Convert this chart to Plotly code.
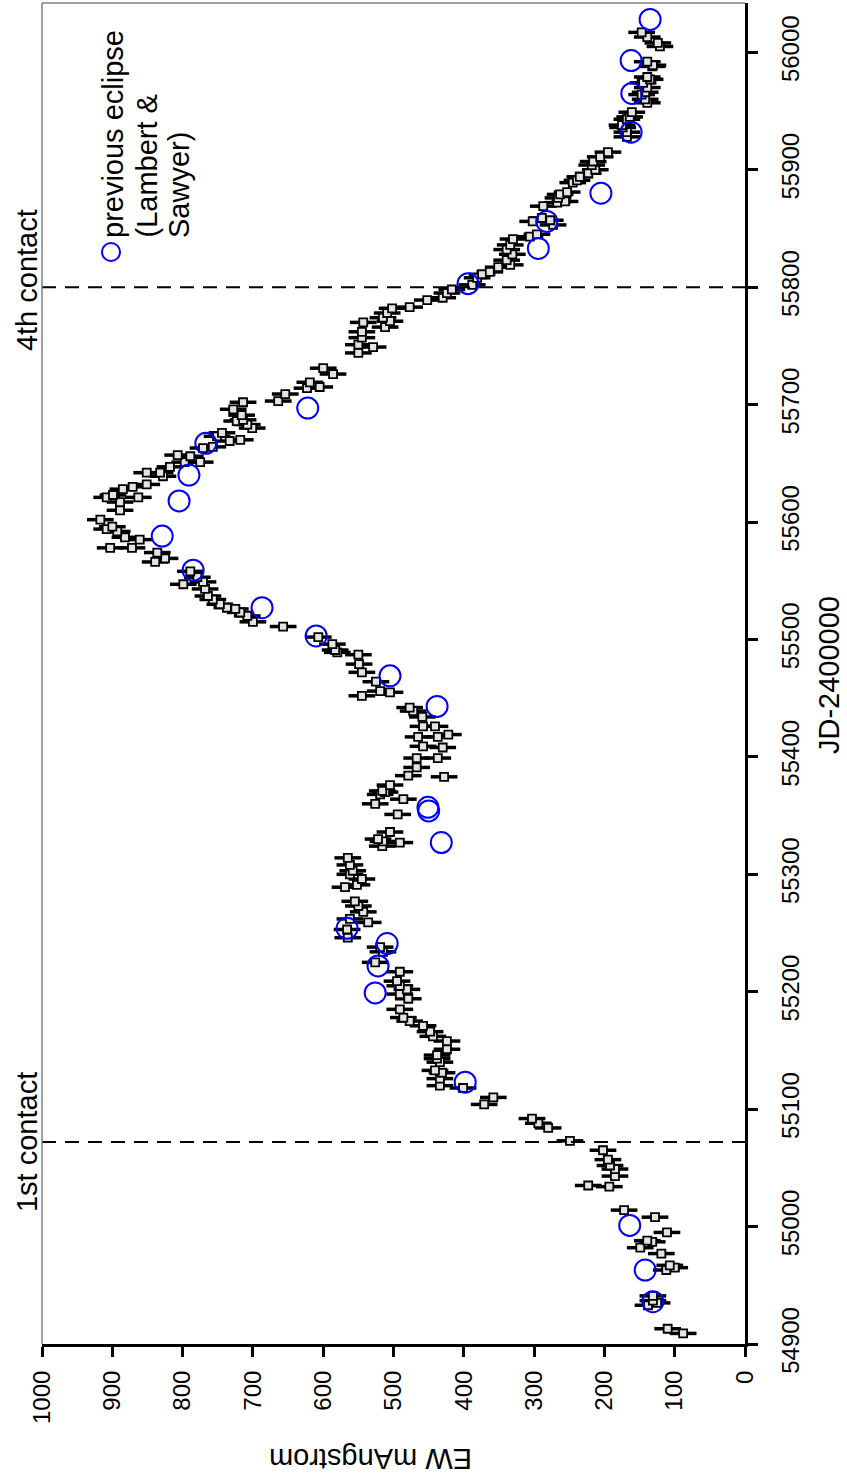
import plotly.graph_objects as go

# ---- data: current eclipse (JD-2400000, EW in mAngstrom) ----
jd = [54909, 54913, 54933, 54935, 54937, 54941, 54963, 54965, 54967, 54977,
      54982, 54987, 54988, 54995, 55008, 55014, 55034, 55035, 55043, 55049,
      55052, 55057, 55065, 55073, 55084, 55088, 55092, 55104, 55110, 55118,
      55120, 55126, 55131, 55133, 55140, 55143, 55146, 55151, 55158, 55162,
      55166, 55171, 55175, 55178, 55185, 55194, 55198, 55202, 55205, 55209,
      55217, 55225, 55234, 55238, 55246, 55253, 55259, 55262, 55268, 55273,
      55277, 55289, 55291, 55296, 55300, 55303, 55308, 55314, 55324, 55327,
      55328, 55330, 55336, 55351, 55360, 55364, 55368, 55370, 55371, 55376,
      55383, 55384, 55391, 55399, 55399, 55408, 55409, 55417, 55417, 55419,
      55426, 55426, 55434, 55439, 55442, 55452, 55455, 55456, 55464, 55472,
      55479, 55487, 55489, 55491, 55496, 55502, 55511, 55515, 55520, 55523,
      55526, 55527, 55530, 55534, 55537, 55543, 55547, 55549, 55553, 55558,
      55566, 55569, 55574, 55578, 55578, 55585, 55587, 55592, 55594, 55596,
      55602, 55610, 55617, 55621, 55621, 55623, 55628, 55630, 55632, 55639,
      55642, 55642, 55647, 55651, 55651, 55656, 55657, 55663, 55664, 55669,
      55670, 55673, 55676, 55680, 55683, 55686, 55687, 55691, 55696, 55702,
      55703, 55709, 55714, 55715, 55719, 55726, 55731, 55744, 55749, 55751,
      55757, 55762, 55766, 55770, 55771, 55774, 55778, 55782, 55783, 55789,
      55791, 55795, 55798, 55802, 55808, 55811, 55813, 55817, 55819, 55823,
      55828, 55832, 55836, 55841, 55843, 55845, 55853, 55856, 55857, 55859,
      55869, 55872, 55873, 55876, 55879, 55881, 55889, 55891, 55894, 55897,
      55900, 55904, 55907, 55911, 55915, 55928, 55932, 55936, 55938, 55943,
      55945, 55949, 55957, 55960, 55964, 55966, 55970, 55974, 55977, 55979,
      55988, 55989, 55992, 56005, 56008, 56013, 56017]
ew = [88, 110, 138, 125, 131, 131, 112, 100, 107, 119,
      149, 132, 139, 111, 128, 172, 193, 223, 185, 185,
      192, 195, 202, 249, 280, 294, 303, 371, 358, 401,
      434, 434, 431, 441, 434, 438, 438, 424, 424, 444,
      448, 458, 477, 486, 491, 479, 491, 481, 491, 495,
      491, 526, 515, 519, 565, 566, 536, 562, 543, 550,
      555, 569, 552, 545, 562, 558, 562, 565, 516, 491,
      515, 522, 505, 494, 526, 486, 519, 512, 516, 505,
      428, 479, 467, 467, 437, 430, 458, 465, 437, 422,
      458, 441, 459, 472, 477, 545, 505, 519, 525, 545,
      549, 550, 580, 583, 587, 607, 657, 700, 708, 718,
      725, 737, 747, 757, 764, 768, 799, 771, 779, 789,
      839, 825, 836, 903, 872, 861, 882, 893, 908, 900,
      917, 889, 889, 908, 863, 899, 885, 871, 851, 828,
      851, 832, 818, 797, 775, 789, 807, 771, 757, 733,
      718, 751, 744, 701, 708, 723, 714, 716, 728, 714,
      664, 654, 623, 605, 619, 586, 600, 550, 529, 550,
      545, 545, 512, 543, 505, 515, 509, 502, 477, 452,
      430, 424, 417, 388, 381, 374, 363, 351, 334, 339,
      331, 339, 334, 330, 306, 296, 273, 302, 277, 289,
      287, 267, 256, 266, 263, 253, 245, 239, 235, 223,
      213, 218, 216, 206, 195, 168, 168, 174, 175, 168,
      164, 161, 139, 142, 147, 142, 139, 145, 135, 139,
      132, 131, 139, 121, 124, 139, 147]
ew_err = 19

# ---- data: previous eclipse (Lambert & Sawyer) ----
prev_jd = [54936, 54963, 55001, 55123, 55199, 55222, 55241, 55254, 55327, 55354,
           55357, 55443, 55469, 55503, 55527, 55559, 55588, 55618, 55640, 55667,
           55697, 55803, 55833, 55856, 55880, 55932, 55965, 55993, 56028]
prev_ew = [131, 142, 164, 398, 526, 522, 509, 566, 432, 450,
           451, 438, 505, 610, 687, 785, 829, 805, 791, 767,
           622, 394, 294, 282, 205, 162, 161, 162, 135]

contacts_jd = [55072, 55800]
contact_labels = ["1st contact", "4th contact"]
ew_ticks = list(range(0, 1001, 100))
jd_ticks = list(range(54900, 56001, 100))

FONT = "Liberation Sans, Arial, sans-serif"
TXT = 29

fig = go.Figure()
fig.add_trace(go.Scatter(
    x=ew, y=jd, mode="markers",
    marker=dict(symbol="square", size=8, color="#e4e4e4",
                line=dict(color="black", width=1.8)),
    error_x=dict(type="constant", value=ew_err, thickness=3.5, width=0, color="black"),
    showlegend=False, cliponaxis=False))
fig.add_trace(go.Scatter(
    x=prev_ew, y=prev_jd, mode="markers",
    marker=dict(symbol="circle-open", size=21, color="#0000ff",
                line=dict(width=2, color="#0000ff")),
    showlegend=False))

shapes = []
for c in contacts_jd:
    shapes.append(dict(type="line", xref="paper", yref="y", x0=0, x1=1, y0=c, y1=c,
                       line=dict(color="black", width=2, dash="14px,9px")))
# thin frame on top and left
shapes.append(dict(type="line", xref="paper", yref="paper", x0=0, x1=1, y0=1, y1=1,
                   line=dict(color="#808080", width=1.5)))
shapes.append(dict(type="line", xref="paper", yref="paper", x0=0, x1=0, y0=0, y1=1,
                   line=dict(color="#808080", width=1.5)))
# legend symbol
shapes.append(dict(type="circle", xref="paper", yref="paper",
                   x0=(102 - 42) / 703, x1=(120 - 42) / 703,
                   y0=(1344 - 261) / 1341, y1=(1344 - 243) / 1341,
                   line=dict(color="#0000ff", width=2)))

annotations = []
for c, lab in zip(contacts_jd, contact_labels):
    annotations.append(dict(text=lab, xref="paper", yref="y", x=(27 - 42) / 703,
                            y=c + (6 if lab.startswith("4") else 0),
                            xanchor="center", yanchor="middle", textangle=-90,
                            showarrow=False, font=dict(size=TXT, color="black", family=FONT)))
legend_lines = ["previous eclipse", "(Lambert &", "Sawyer)"]
for i, t in enumerate(legend_lines):
    xc = 113 + 33 * i
    annotations.append(dict(text=t, xref="paper", yref="paper", x=(xc - 42) / 703,
                            y=(1344 - 240) / 1341, xanchor="center", yanchor="bottom",
                            textangle=-90, showarrow=False,
                            font=dict(size=TXT, color="black", family=FONT)))
annotations.append(dict(text="JD-2400000", xref="paper", yref="paper",
                        x=(829 - 42) / 703, y=(1344 - 675) / 1341,
                        xanchor="center", yanchor="middle",
                        textangle=-90, showarrow=False,
                        font=dict(size=TXT, color="black", family=FONT)))
annotations.append(dict(text="EW mAngstrom", xref="paper", yref="paper",
                        x=(371 - 42) / 703, y=(1344 - 1459) / 1341,
                        xanchor="center", yanchor="middle",
                        textangle=180, showarrow=False,
                        font=dict(size=TXT, color="black", family=FONT)))

fig.update_layout(
    width=847, height=1479,
    margin=dict(l=42, r=102, t=3, b=135),
    paper_bgcolor="white", plot_bgcolor="white",
    showlegend=False,
    font=dict(family=FONT, size=24, color="black"),
    shapes=shapes, annotations=annotations,
    xaxis=dict(range=[1000, 0], tickvals=ew_ticks, tickangle=-90,
               ticks="outside", ticklen=10, tickwidth=3, tickcolor="black",
               showline=True, linewidth=3, linecolor="black",
               showgrid=False, zeroline=False, ticklabelstandoff=4,
               tickfont=dict(size=24, family=FONT)),
    yaxis=dict(range=[54900, 56042], tickvals=jd_ticks, tickformat="d",
               side="right", tickangle=-90,
               ticks="outside", ticklen=10, tickwidth=3, tickcolor="black",
               showline=True, linewidth=3, linecolor="black",
               showgrid=False, zeroline=False, ticklabelstandoff=12,
               tickfont=dict(size=24, family=FONT)),
)

fig.write_html("out.html")
